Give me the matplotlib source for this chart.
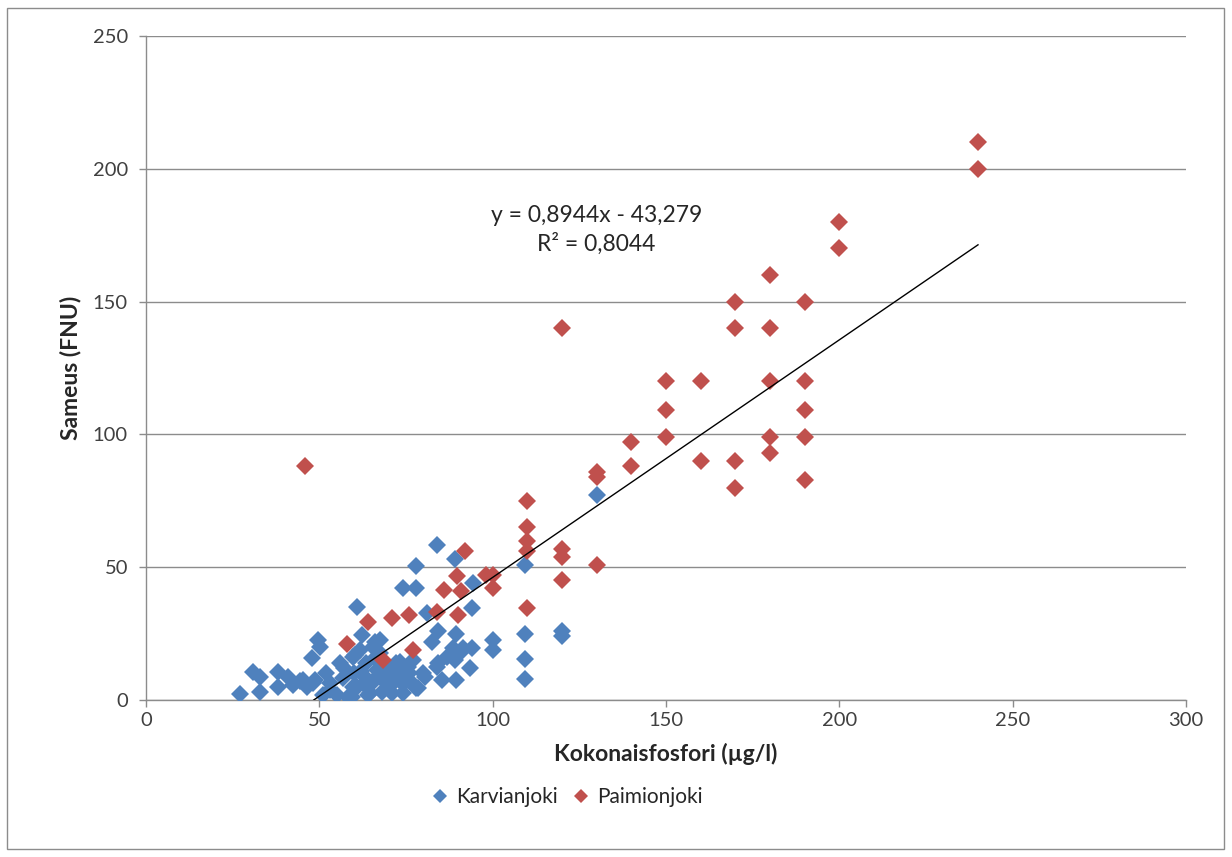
import matplotlib

matplotlib.use("Agg", force=True)
import matplotlib.pyplot as plt
from matplotlib.patches import Rectangle
import numpy as np

plt.rcParams["font.family"] = ["Lato", "DejaVu Sans"]

# Karvianjoki (blue)
karv_x = [27, 31, 33, 33, 38, 38, 41, 42.5, 44.5, 45.4, 46.5, 47.8, 48.3, 48.7, 49.7, 50.2,
          51.1, 52, 53, 53, 55, 56.9, 58.4, 59.3, 59.8, 59.8, 60.3, 60.8, 61, 61.7, 62.2,
          63.1, 63.6, 64.1, 64.6, 65.6, 66, 66.5, 67.5, 67.5, 68, 68.4, 70.9, 71.8, 73.3,
          73.7, 74, 74.2, 75.7, 76, 78, 78.5, 78, 78, 80, 80.5, 81, 82.4, 83.8, 83.8, 84.3,
          84.3, 85.3, 86.7, 88.6, 89, 89.1, 89.4, 89.4, 91, 91.5, 93.5, 93.9, 94, 94.4,
          100, 100, 109.3, 109.3, 109.3, 109.3, 120, 120, 130,
          57, 62, 65, 67, 69, 70, 72, 72, 66, 63, 70, 56, 60, 74, 76, 77]
karv_y = [2.3, 10.7, 8.8, 3, 10.7, 5, 8.8, 5.6, 7, 7.5, 5, 16, 6.3, 7.5, 22.6, 20,
          1.9, 10, 3.8, 6.3, 1.9, 8.2, 1.3, 1.3, 16.3, 5, 17, 5, 35, 18.8, 24.5,
          8.8, 13.8, 2, 2.5, 20, 22, 11.3, 22.6, 17.6, 3.1, 7.5, 2.5, 7.5, 14.4,
          11.3, 42, 2.5, 12.5, 7.5, 4.4, 4.4, 42, 50.5, 10, 8.8, 32.6, 22, 12.5, 58.5, 26,
          13.8, 7.5, 16.3, 19.5, 15, 53, 25, 7.5, 18.2, 19.5, 12, 19.5, 34.5, 44,
          22.6, 18.7, 51, 25, 15.5, 8, 24, 26, 77,
          12, 11, 6, 9, 12, 5, 9, 14, 16, 6, 10, 14, 10, 6, 10, 15]

# Paimionjoki (red)
paim_x = [46, 58, 64, 68.4, 71, 76, 77, 84, 86, 89.6, 90, 91, 92, 98, 100, 100,
          110, 110, 110, 110, 110, 120, 120, 120, 120, 130, 130, 130, 140, 140,
          150, 150, 150, 160, 160, 170, 170, 170, 170, 180, 180, 180, 180, 180,
          190, 190, 190, 190, 190, 200, 200, 240, 240]
paim_y = [88, 21, 29.5, 15, 31, 32, 18.8, 33, 41.3, 46.5, 32, 41, 56, 47, 47, 42,
          75, 65, 60, 56, 34.5, 140, 57, 54, 45, 86, 84, 51, 97, 88,
          120, 109, 99, 120, 90, 150, 140, 90, 80, 160, 140, 120, 99, 93,
          150, 120, 109, 99, 83, 180, 170, 210, 200]

slope, intercept = 0.8944, -43.279
trend_x = [48.4, 240]

fig = plt.figure(figsize=(12.32, 8.57), dpi=100)
ax = fig.add_axes([146 / 1232, 1 - 700 / 857, 1040 / 1232, 664 / 857])

fig.patches.append(Rectangle((7 / 1232, 8 / 857), 1217 / 1232, 841 / 857,
                             transform=fig.transFigure, fill=False,
                             edgecolor="#8c8c8c", linewidth=1.0))

ax.set_xlim(0, 300)
ax.set_ylim(0, 250)
ax.set_xticks(np.arange(0, 301, 50))
ax.set_yticks(np.arange(0, 251, 50))
ax.yaxis.grid(True, color="#8c8c8c", linewidth=1.0)
ax.set_axisbelow(True)
for side in ["top", "right"]:
    ax.spines[side].set_visible(False)
for side in ["left", "bottom"]:
    ax.spines[side].set_color("#8c8c8c")
    ax.spines[side].set_linewidth(1.0)
ax.tick_params(axis="both", colors="#8c8c8c", length=5, width=1.0,
               labelcolor="#404040", labelsize=14.5)
ax.tick_params(axis="x", pad=4)
ax.tick_params(axis="y", pad=8)

ax.plot(karv_x, karv_y, "D", color="#4F81BD", markersize=9, markeredgewidth=0,
        label="Karvianjoki", zorder=3)
ax.plot(paim_x, paim_y, "D", color="#C0504D", markersize=9, markeredgewidth=0,
        label="Paimionjoki", zorder=3)
ax.plot(trend_x, [slope * v + intercept for v in trend_x], color="black",
        linewidth=1.0, zorder=4)

ax.text(130, 182.6, "y = 0,8944x - 43,279", ha="center", va="center",
        fontsize=16.5, color="#262626")
ax.text(130, 171.7, "R² = 0,8044", ha="center", va="center",
        fontsize=16.5, color="#262626")

ax.set_xlabel("Kokonaisfosfori (µg/l)", fontsize=16.5, fontweight="bold",
              color="#262626", labelpad=10)
ax.set_ylabel("Sameus (FNU)", fontsize=16.5, fontweight="bold",
              color="#262626", labelpad=8)

fig.legend(loc="center", bbox_to_anchor=(566 / 1232, 1 - 797 / 857), ncol=2,
           frameon=False, fontsize=15, handlelength=1.0, handletextpad=0.3,
           columnspacing=0.6, markerscale=0.8, labelcolor="#262626")

fig.savefig("out.png", dpi=100)
